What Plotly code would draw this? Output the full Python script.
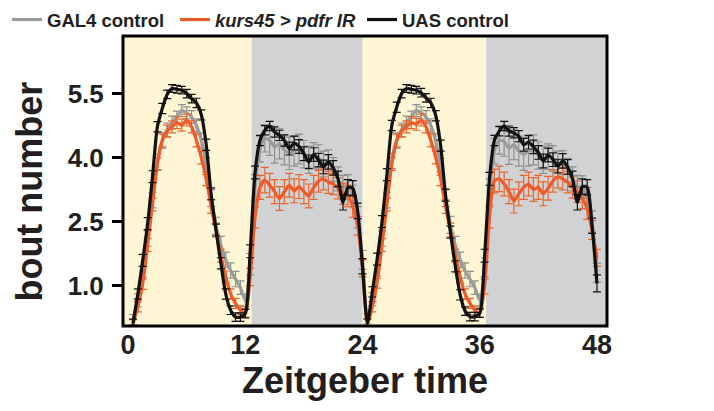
import plotly.graph_objects as go

# Half-hour bins across two days (Zeitgeber time, hours)
zt = [0.5 * i for i in range(1, 97)]

# Mean bout number per bin
gal4_control = [
    0.20, 0.65, 1.30, 2.10, 3.00, 3.90, 4.40, 4.65, 4.82, 4.95, 5.10, 5.05,
    4.95, 4.75, 4.40, 3.80, 3.05, 2.40, 1.95, 1.60, 1.35, 1.15, 0.95, 0.65,
    1.50, 3.30, 4.20, 4.45, 4.40, 4.25, 4.32, 4.18, 4.10, 4.15, 4.20, 4.08,
    3.95, 4.05, 4.00, 3.85, 3.90, 3.72, 3.50, 3.30, 3.35, 3.10, 2.60, 1.60,
    0.22, 0.68, 1.32, 2.10, 3.00, 3.92, 4.40, 4.65, 4.82, 4.95, 5.10, 5.05,
    4.95, 4.75, 4.38, 3.78, 3.05, 2.42, 1.95, 1.60, 1.35, 1.15, 0.95, 0.65,
    1.40, 3.20, 4.15, 4.40, 4.38, 4.22, 4.30, 4.15, 4.08, 4.15, 4.18, 4.05,
    3.95, 4.02, 3.98, 3.85, 3.88, 3.70, 3.50, 3.30, 3.32, 3.05, 2.50, 1.30,
]
kurs45_pdfr_ir = [
    0.10, 0.50, 1.05, 1.95, 2.90, 3.85, 4.40, 4.62, 4.72, 4.82, 4.76, 4.88,
    4.72, 4.40, 4.00, 3.50, 2.85, 2.30, 1.70, 1.20, 0.80, 0.58, 0.42, 0.35,
    1.20, 2.60, 3.30, 3.47, 3.35, 3.20, 3.04, 3.20, 3.35, 3.22, 3.32, 3.20,
    3.10, 3.30, 3.45, 3.50, 3.42, 3.38, 3.28, 3.15, 3.10, 2.85, 2.40, 1.40,
    0.10, 0.50, 1.08, 1.95, 2.90, 3.85, 4.40, 4.62, 4.72, 4.82, 4.78, 4.88,
    4.72, 4.40, 4.00, 3.50, 2.85, 2.30, 1.70, 1.20, 0.80, 0.58, 0.42, 0.35,
    1.00, 2.60, 3.45, 3.50, 3.38, 3.20, 2.98, 3.15, 3.30, 3.38, 3.25, 3.30,
    3.15, 3.28, 3.45, 3.55, 3.50, 3.42, 3.30, 3.20, 3.05, 2.80, 2.30, 1.65,
]
uas_control = [
    0.11, 0.80, 1.59, 2.45, 3.55, 4.72, 5.15, 5.48, 5.62, 5.60, 5.58, 5.50,
    5.38, 5.28, 5.00, 4.30, 3.15, 2.30, 1.52, 0.80, 0.42, 0.26, 0.26, 0.34,
    1.80, 3.65, 4.40, 4.64, 4.74, 4.60, 4.52, 4.40, 4.21, 4.34, 4.26, 4.09,
    3.90, 4.07, 3.94, 3.78, 3.90, 3.76, 3.50, 2.95, 3.30, 3.28, 2.75, 1.45,
    0.12, 0.85, 1.62, 2.50, 3.60, 4.75, 5.18, 5.50, 5.62, 5.60, 5.58, 5.52,
    5.40, 5.28, 4.98, 4.28, 3.12, 2.25, 1.45, 0.78, 0.40, 0.27, 0.27, 0.35,
    1.70, 3.50, 4.40, 4.62, 4.74, 4.62, 4.58, 4.50, 4.30, 4.36, 4.25, 4.12,
    3.92, 4.06, 3.95, 3.80, 3.92, 3.78, 3.50, 2.95, 3.32, 3.30, 2.40, 1.05,
]

# Standard error of the mean per bin
gal4_sem = [
    0.12, 0.15, 0.15, 0.18, 0.18, 0.18, 0.18, 0.16, 0.15, 0.14, 0.14, 0.14,
    0.15, 0.16, 0.18, 0.20, 0.20, 0.20, 0.20, 0.18, 0.18, 0.18, 0.16, 0.15,
    0.25, 0.30, 0.30, 0.32, 0.35, 0.38, 0.35, 0.35, 0.38, 0.35, 0.35, 0.32,
    0.32, 0.30, 0.30, 0.30, 0.28, 0.28, 0.28, 0.28, 0.25, 0.25, 0.25, 0.22,
    0.12, 0.15, 0.15, 0.18, 0.18, 0.18, 0.18, 0.16, 0.15, 0.14, 0.14, 0.14,
    0.15, 0.16, 0.18, 0.20, 0.20, 0.20, 0.20, 0.18, 0.18, 0.18, 0.16, 0.15,
    0.25, 0.30, 0.30, 0.32, 0.35, 0.38, 0.35, 0.35, 0.38, 0.35, 0.35, 0.32,
    0.32, 0.30, 0.30, 0.30, 0.28, 0.28, 0.28, 0.28, 0.25, 0.25, 0.25, 0.22,
]
kurs45_sem = [
    0.10, 0.12, 0.14, 0.15, 0.15, 0.15, 0.15, 0.14, 0.14, 0.14, 0.14, 0.14,
    0.14, 0.15, 0.15, 0.16, 0.16, 0.16, 0.15, 0.14, 0.12, 0.12, 0.10, 0.10,
    0.20, 0.25, 0.28, 0.30, 0.28, 0.28, 0.28, 0.28, 0.28, 0.28, 0.28, 0.28,
    0.28, 0.28, 0.26, 0.26, 0.26, 0.25, 0.25, 0.25, 0.25, 0.25, 0.22, 0.20,
    0.10, 0.12, 0.14, 0.15, 0.15, 0.15, 0.15, 0.14, 0.14, 0.14, 0.14, 0.14,
    0.14, 0.15, 0.15, 0.16, 0.16, 0.16, 0.15, 0.14, 0.12, 0.12, 0.10, 0.10,
    0.20, 0.25, 0.28, 0.30, 0.28, 0.28, 0.28, 0.28, 0.28, 0.28, 0.28, 0.28,
    0.28, 0.28, 0.26, 0.26, 0.26, 0.25, 0.25, 0.25, 0.25, 0.25, 0.22, 0.20,
]
uas_sem = [
    0.10, 0.12, 0.14, 0.14, 0.14, 0.12, 0.12, 0.10, 0.09, 0.09, 0.09, 0.10,
    0.10, 0.11, 0.12, 0.13, 0.14, 0.14, 0.13, 0.12, 0.10, 0.10, 0.10, 0.10,
    0.15, 0.15, 0.12, 0.11, 0.11, 0.12, 0.12, 0.13, 0.15, 0.16, 0.16, 0.16,
    0.16, 0.16, 0.16, 0.16, 0.17, 0.17, 0.18, 0.18, 0.18, 0.18, 0.18, 0.18,
    0.10, 0.12, 0.14, 0.14, 0.14, 0.12, 0.12, 0.10, 0.09, 0.09, 0.09, 0.10,
    0.10, 0.11, 0.12, 0.13, 0.14, 0.14, 0.13, 0.12, 0.10, 0.10, 0.10, 0.10,
    0.15, 0.15, 0.12, 0.11, 0.11, 0.12, 0.12, 0.13, 0.15, 0.16, 0.16, 0.16,
    0.16, 0.16, 0.16, 0.16, 0.17, 0.17, 0.18, 0.18, 0.18, 0.18, 0.18, 0.20,
]

# Light (cream) and dark (gray) phases as drawn behind the traces
phases = [
    (-0.6, 12.64, "#fdf5d3"),
    (12.64, 24.02, "#d1d2d4"),
    (24.02, 36.65, "#fdf5d3"),
    (36.65, 49.2, "#d1d2d4"),
]

FONT = "Liberation Sans, Arial, sans-serif"
TEXT = "#231f20"

# name, values, sem, line colour, error-bar colour, legend id, legend x (container px)
series = [
    ("GAL4 control", gal4_control, gal4_sem, "#9a9c9c", "#8e908c", "legend", 7),
    ("<i>kurs45 &gt; pdfr IR</i>", kurs45_pdfr_ir, kurs45_sem, "#ee5a2a", "#e8662e", "legend2", 175),
    ("UAS control", uas_control, uas_sem, "#111111", "#111111", "legend3", 362),
]

fig = go.Figure()
legends = {}
for name, vals, sem, line_col, bar_col, leg, leg_x in series:
    fig.add_trace(go.Scatter(
        x=zt, y=vals, name=name, mode="lines", legend=leg,
        line=dict(color=line_col, width=3.2, shape="spline", smoothing=0.7),
        error_y=dict(type="data", array=sem, visible=True,
                     color=bar_col, thickness=1.2, width=4),
    ))
    legends[leg] = dict(
        orientation="h", xref="container", yref="container",
        x=leg_x / 714, y=1 - 1 / 411, xanchor="left", yanchor="top",
        font=dict(family=FONT, size=18.5, weight="bold", color=TEXT),
        bgcolor="rgba(0,0,0,0)", itemwidth=30,
    )

for x0, x1, col in phases:
    fig.add_shape(type="rect", xref="x", yref="paper", x0=x0, x1=x1, y0=0, y1=1,
                  fillcolor=col, line_width=0, layer="below")

# Black frame around the plotting area
fig.add_shape(type="rect", xref="paper", yref="paper", x0=0, x1=1, y0=0, y1=1,
              line=dict(color="black", width=3), layer="above")

# Y-axis title
fig.add_annotation(
    text="bout number", textangle=-90, showarrow=False,
    xref="paper", yref="paper", x=-0.194, y=0.4638,
    xanchor="center", yanchor="middle",
    font=dict(family=FONT, size=36, weight="bold", color=TEXT),
)

fig.update_layout(
    width=714, height=411,
    margin=dict(l=123, r=107, t=36, b=85, autoexpand=False),
    plot_bgcolor="white", paper_bgcolor="white",
    font=dict(family=FONT, color=TEXT),
    showlegend=True,
    **legends,
    xaxis=dict(
        range=[-0.52, 49.03], tickvals=[0, 12, 24, 36, 48],
        showgrid=False, zeroline=False, showline=False, ticks="",
        tickfont=dict(size=27, weight="bold"),
        title=dict(text="Zeitgeber time", font=dict(size=36, weight="bold"), standoff=4),
    ),
    yaxis=dict(
        range=[0.05, 6.85], tickvals=[1.0, 2.5, 4.0, 5.5], tickformat=".1f",
        showgrid=False, zeroline=False, showline=False,
        ticks="outside", ticklen=10, tickwidth=2.5, tickcolor="black",
        ticklabelstandoff=3,
        tickfont=dict(size=26, weight="bold"),
    ),
)

fig.write_html("out.html")
